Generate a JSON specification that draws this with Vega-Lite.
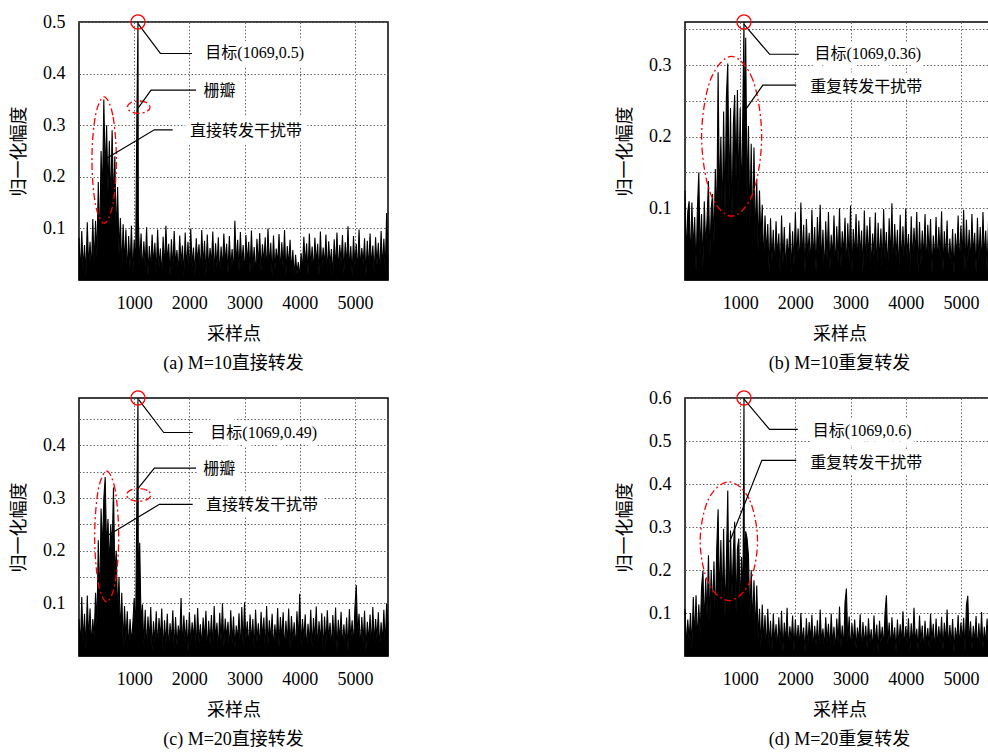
{
"$schema": "https://vega.github.io/schema/vega-lite/v6.json",
"padding": {"left": 9, "top": 11, "right": 0, "bottom": 0},
"background": "white",
"bounds": "flush",
"columns": 2,
"spacing": {"row": 118, "column": 297},
"config": {
 "view": {"stroke": "black", "strokeWidth": 1.5},
 "axis": {"domain": false, "ticks": false, "tickSize": 0, "labelFont": "Liberation Serif", "labelFontSize": 18, "labelColor": "black", "labelFlush": false, "labelOverlap": false, "titleFont": "Noto Sans CJK SC", "titleFontSize": 18, "titleFontWeight": "normal", "titleColor": "black", "gridColor": "#666666", "gridDash": [1.5, 2], "gridWidth": 1, "gridOpacity": 1},
 "axisX": {"labelPadding": 14, "titlePadding": 13},
 "axisY": {"labelPadding": 14, "titlePadding": 14},
 "title": {"orient": "bottom", "font": "Liberation Serif, Noto Sans CJK SC", "fontSize": 18, "fontWeight": "normal", "color": "black", "offset": 12, "frame": "group", "anchor": "middle"}
},
"datasets": {
"sig": [
{"x":0,"a":0.082,"b":0.125,"c":0.07,"d":0.11},
{"x":25,"a":0.012,"b":0.03,"c":0.015,"d":0.02},
{"x":50,"a":0.095,"b":0.095,"c":0.112,"d":0.085},
{"x":75,"a":0.021,"b":0.11,"c":0.025,"d":0.035},
{"x":100,"a":0.068,"b":0.02,"c":0.08,"d":0.1},
{"x":125,"a":0.008,"b":0.108,"c":0.01,"d":0.015},
{"x":150,"a":0.112,"b":0.04,"c":0.115,"d":0.137},
{"x":175,"a":0.025,"b":0.088,"c":0.03,"d":0.04},
{"x":200,"a":0.074,"b":0.012,"c":0.09,"d":0.141},
{"x":225,"a":0.015,"b":0.1,"c":0.018,"d":0.03},
{"x":250,"a":0.118,"b":0.15,"c":0.07,"d":0.12},
{"x":275,"a":0.03,"b":0.035,"c":0.035,"d":0.05},
{"x":300,"a":0.115,"b":0.092,"c":0.12,"d":0.16},
{"x":325,"a":0.045,"b":0.018,"c":0.06,"d":0.199},
{"x":350,"a":0.19,"b":0.11,"c":0.22,"d":0.07},
{"x":375,"a":0.06,"b":0.045,"c":0.09,"d":0.18},
{"x":400,"a":0.25,"b":0.085,"c":0.28,"d":0.09},
{"x":425,"a":0.16,"b":0.138,"c":0.2,"d":0.234},
{"x":450,"a":0.35,"b":0.03,"c":0.3,"d":0.08},
{"x":475,"a":0.2,"b":0.1,"c":0.34,"d":0.2},
{"x":500,"a":0.3,"b":0.12,"c":0.2,"d":0.1},
{"x":525,"a":0.17,"b":0.05,"c":0.26,"d":0.22},
{"x":550,"a":0.27,"b":0.155,"c":0.17,"d":0.07},
{"x":575,"a":0.14,"b":0.07,"c":0.25,"d":0.25},
{"x":600,"a":0.29,"b":0.29,"c":0.2,"d":0.341},
{"x":625,"a":0.15,"b":0.1,"c":0.32,"d":0.12},
{"x":650,"a":0.24,"b":0.2,"c":0.15,"d":0.27},
{"x":675,"a":0.08,"b":0.08,"c":0.2,"d":0.11},
{"x":700,"a":0.18,"b":0.235,"c":0.08,"d":0.296},
{"x":725,"a":0.05,"b":0.09,"c":0.15,"d":0.09},
{"x":750,"a":0.12,"b":0.255,"c":0.04,"d":0.22},
{"x":775,"a":0.018,"b":0.302,"c":0.12,"d":0.385},
{"x":800,"a":0.108,"b":0.11,"c":0.02,"d":0.1},
{"x":825,"a":0.03,"b":0.24,"c":0.095,"d":0.292},
{"x":850,"a":0.098,"b":0.075,"c":0.03,"d":0.13},
{"x":875,"a":0.012,"b":0.215,"c":0.085,"d":0.24},
{"x":900,"a":0.085,"b":0.258,"c":0.012,"d":0.312},
{"x":925,"a":0.022,"b":0.14,"c":0.07,"d":0.1},
{"x":950,"a":0.105,"b":0.265,"c":0.025,"d":0.25},
{"x":975,"a":0.01,"b":0.12,"c":0.06,"d":0.273},
{"x":1000,"a":0.078,"b":0.24,"c":0.11,"d":0.11},
{"x":1025,"a":0.02,"b":0.1,"c":0.04,"d":0.23},
{"x":1050,"a":0.33,"b":0.25,"c":0.31,"d":0.12},
{"x":1069,"a":0.5,"b":0.36,"c":0.49,"d":0.6},
{"x":1075,"a":0.118,"b":0.16,"c":0.13,"d":0.18},
{"x":1100,"a":0.03,"b":0.338,"c":0.215,"d":0.29},
{"x":1125,"a":0.09,"b":0.11,"c":0.06,"d":0.273},
{"x":1150,"a":0.014,"b":0.215,"c":0.098,"d":0.235},
{"x":1175,"a":0.075,"b":0.075,"c":0.02,"d":0.09},
{"x":1200,"a":0.025,"b":0.19,"c":0.088,"d":0.2},
{"x":1225,"a":0.102,"b":0.06,"c":0.012,"d":0.07},
{"x":1250,"a":0.008,"b":0.185,"c":0.075,"d":0.176},
{"x":1275,"a":0.066,"b":0.05,"c":0.028,"d":0.05},
{"x":1300,"a":0.019,"b":0.14,"c":0.093,"d":0.164},
{"x":1325,"a":0.088,"b":0.04,"c":0.01,"d":0.04},
{"x":1350,"a":0.027,"b":0.125,"c":0.066,"d":0.11},
{"x":1375,"a":0.072,"b":0.055,"c":0.024,"d":0.02},
{"x":1400,"a":0.011,"b":0.105,"c":0.085,"d":0.12},
{"x":1425,"a":0.098,"b":0.02,"c":0.016,"d":0.03},
{"x":1450,"a":0.024,"b":0.09,"c":0.072,"d":0.095},
{"x":1475,"a":0.061,"b":0.035,"c":0.031,"d":0.012},
{"x":1500,"a":0.006,"b":0.078,"c":0.09,"d":0.11},
{"x":1525,"a":0.084,"b":0.01,"c":0.009,"d":0.025},
{"x":1550,"a":0.02,"b":0.086,"c":0.068,"d":0.082},
{"x":1575,"a":0.105,"b":0.025,"c":0.022,"d":0.01},
{"x":1600,"a":0.033,"b":0.07,"c":0.08,"d":0.098},
{"x":1625,"a":0.07,"b":0.015,"c":0.013,"d":0.03},
{"x":1650,"a":0.009,"b":0.082,"c":0.062,"d":0.074},
{"x":1675,"a":0.079,"b":0.03,"c":0.027,"d":0.016},
{"x":1700,"a":0.018,"b":0.065,"c":0.087,"d":0.09},
{"x":1725,"a":0.095,"b":0.008,"c":0.011,"d":0.022},
{"x":1750,"a":0.028,"b":0.09,"c":0.074,"d":0.105},
{"x":1775,"a":0.058,"b":0.022,"c":0.02,"d":0.009},
{"x":1800,"a":0.012,"b":0.074,"c":0.058,"d":0.078},
{"x":1825,"a":0.086,"b":0.012,"c":0.03,"d":0.028},
{"x":1850,"a":0.03,"b":0.058,"c":0.11,"d":0.112},
{"x":1875,"a":0.067,"b":0.028,"c":0.015,"d":0.014},
{"x":1900,"a":0.007,"b":0.08,"c":0.077,"d":0.069},
{"x":1925,"a":0.092,"b":0.01,"c":0.025,"d":0.033},
{"x":1950,"a":0.021,"b":0.068,"c":0.069,"d":0.094},
{"x":1975,"a":0.074,"b":0.02,"c":0.008,"d":0.011},
{"x":2000,"a":0.015,"b":0.094,"c":0.083,"d":0.085},
{"x":2025,"a":0.1,"b":0.03,"c":0.021,"d":0.024},
{"x":2050,"a":0.026,"b":0.072,"c":0.064,"d":0.072},
{"x":2075,"a":0.063,"b":0.014,"c":0.032,"d":0.018},
{"x":2100,"a":0.01,"b":0.108,"c":0.079,"d":0.1},
{"x":2125,"a":0.081,"b":0.026,"c":0.012,"d":0.03},
{"x":2150,"a":0.032,"b":0.077,"c":0.091,"d":0.066},
{"x":2175,"a":0.069,"b":0.009,"c":0.024,"d":0.008},
{"x":2200,"a":0.013,"b":0.085,"c":0.06,"d":0.088},
{"x":2225,"a":0.097,"b":0.032,"c":0.017,"d":0.021},
{"x":2250,"a":0.024,"b":0.066,"c":0.073,"d":0.079},
{"x":2275,"a":0.076,"b":0.017,"c":0.029,"d":0.035},
{"x":2300,"a":0.008,"b":0.098,"c":0.086,"d":0.096},
{"x":2325,"a":0.088,"b":0.024,"c":0.009,"d":0.013},
{"x":2350,"a":0.019,"b":0.074,"c":0.067,"d":0.07},
{"x":2375,"a":0.062,"b":0.011,"c":0.022,"d":0.026},
{"x":2400,"a":0.029,"b":0.088,"c":0.078,"d":0.083},
{"x":2425,"a":0.094,"b":0.035,"c":0.014,"d":0.01},
{"x":2450,"a":0.011,"b":0.105,"c":0.095,"d":0.108},
{"x":2475,"a":0.071,"b":0.019,"c":0.03,"d":0.029},
{"x":2500,"a":0.023,"b":0.07,"c":0.063,"d":0.064},
{"x":2525,"a":0.083,"b":0.006,"c":0.011,"d":0.017},
{"x":2550,"a":0.006,"b":0.082,"c":0.082,"d":0.09},
{"x":2575,"a":0.065,"b":0.027,"c":0.026,"d":0.032},
{"x":2600,"a":0.02,"b":0.095,"c":0.1,"d":0.075},
{"x":2625,"a":0.09,"b":0.015,"c":0.018,"d":0.012},
{"x":2650,"a":0.031,"b":0.063,"c":0.071,"d":0.099},
{"x":2675,"a":0.07,"b":0.03,"c":0.033,"d":0.025},
{"x":2700,"a":0.012,"b":0.09,"c":0.065,"d":0.068},
{"x":2725,"a":0.085,"b":0.011,"c":0.01,"d":0.009},
{"x":2750,"a":0.022,"b":0.075,"c":0.087,"d":0.087},
{"x":2775,"a":0.06,"b":0.025,"c":0.023,"d":0.03},
{"x":2800,"a":0.009,"b":0.1,"c":0.075,"d":0.115},
{"x":2825,"a":0.115,"b":0.018,"c":0.015,"d":0.02},
{"x":2850,"a":0.027,"b":0.068,"c":0.058,"d":0.071},
{"x":2875,"a":0.078,"b":0.034,"c":0.028,"d":0.014},
{"x":2900,"a":0.016,"b":0.087,"c":0.081,"d":0.125},
{"x":2925,"a":0.093,"b":0.012,"c":0.008,"d":0.157},
{"x":2950,"a":0.025,"b":0.079,"c":0.093,"d":0.03},
{"x":2975,"a":0.068,"b":0.023,"c":0.02,"d":0.092},
{"x":3000,"a":0.01,"b":0.104,"c":0.102,"d":0.011},
{"x":3025,"a":0.087,"b":0.008,"c":0.031,"d":0.076},
{"x":3050,"a":0.03,"b":0.071,"c":0.066,"d":0.027},
{"x":3075,"a":0.074,"b":0.029,"c":0.013,"d":0.085},
{"x":3100,"a":0.014,"b":0.092,"c":0.079,"d":0.016},
{"x":3125,"a":0.096,"b":0.016,"c":0.025,"d":0.066},
{"x":3150,"a":0.021,"b":0.083,"c":0.07,"d":0.033},
{"x":3175,"a":0.064,"b":0.032,"c":0.01,"d":0.097},
{"x":3200,"a":0.007,"b":0.069,"c":0.088,"d":0.01},
{"x":3225,"a":0.08,"b":0.01,"c":0.027,"d":0.079},
{"x":3250,"a":0.026,"b":0.097,"c":0.062,"d":0.024},
{"x":3275,"a":0.091,"b":0.021,"c":0.016,"d":0.07},
{"x":3300,"a":0.017,"b":0.076,"c":0.084,"d":0.018},
{"x":3325,"a":0.069,"b":0.028,"c":0.032,"d":0.088},
{"x":3350,"a":0.032,"b":0.088,"c":0.073,"d":0.029},
{"x":3375,"a":0.083,"b":0.013,"c":0.009,"d":0.062},
{"x":3400,"a":0.011,"b":0.065,"c":0.095,"d":0.012},
{"x":3425,"a":0.1,"b":0.033,"c":0.021,"d":0.094},
{"x":3450,"a":0.024,"b":0.094,"c":0.068,"d":0.026},
{"x":3475,"a":0.072,"b":0.009,"c":0.029,"d":0.073},
{"x":3500,"a":0.008,"b":0.08,"c":0.08,"d":0.008},
{"x":3525,"a":0.086,"b":0.024,"c":0.012,"d":0.082},
{"x":3550,"a":0.019,"b":0.072,"c":0.06,"d":0.031},
{"x":3575,"a":0.061,"b":0.017,"c":0.024,"d":0.068},
{"x":3600,"a":0.028,"b":0.099,"c":0.091,"d":0.019},
{"x":3625,"a":0.089,"b":0.03,"c":0.017,"d":0.1},
{"x":3650,"a":0.013,"b":0.067,"c":0.074,"d":0.141},
{"x":3675,"a":0.073,"b":0.011,"c":0.03,"d":0.025},
{"x":3700,"a":0.022,"b":0.086,"c":0.083,"d":0.078},
{"x":3725,"a":0.097,"b":0.026,"c":0.008,"d":0.013},
{"x":3750,"a":0.009,"b":0.107,"c":0.067,"d":0.09},
{"x":3775,"a":0.066,"b":0.014,"c":0.022,"d":0.03},
{"x":3800,"a":0.025,"b":0.078,"c":0.09,"d":0.067},
{"x":3825,"a":0.078,"b":0.031,"c":0.014,"d":0.01},
{"x":3850,"a":0.015,"b":0.07,"c":0.076,"d":0.085},
{"x":3875,"a":0.058,"b":0.008,"c":0.028,"d":0.022},
{"x":3900,"a":0.006,"b":0.091,"c":0.064,"d":0.074},
{"x":3925,"a":0.049,"b":0.022,"c":0.011,"d":0.028},
{"x":3950,"a":0.012,"b":0.075,"c":0.085,"d":0.104},
{"x":3975,"a":0.035,"b":0.018,"c":0.025,"d":0.015},
{"x":4000,"a":0.004,"b":0.1,"c":0.118,"d":0.069},
{"x":4025,"a":0.052,"b":0.029,"c":0.018,"d":0.032},
{"x":4050,"a":0.018,"b":0.064,"c":0.07,"d":0.088},
{"x":4075,"a":0.084,"b":0.012,"c":0.032,"d":0.009},
{"x":4100,"a":0.027,"b":0.089,"c":0.079,"d":0.076},
{"x":4125,"a":0.071,"b":0.025,"c":0.01,"d":0.021},
{"x":4150,"a":0.01,"b":0.073,"c":0.061,"d":0.112},
{"x":4175,"a":0.09,"b":0.034,"c":0.023,"d":0.027},
{"x":4200,"a":0.023,"b":0.095,"c":0.088,"d":0.063},
{"x":4225,"a":0.065,"b":0.01,"c":0.015,"d":0.014},
{"x":4250,"a":0.014,"b":0.081,"c":0.072,"d":0.094},
{"x":4275,"a":0.082,"b":0.02,"c":0.029,"d":0.03},
{"x":4300,"a":0.031,"b":0.069,"c":0.094,"d":0.071},
{"x":4325,"a":0.07,"b":0.027,"c":0.012,"d":0.011},
{"x":4350,"a":0.008,"b":0.092,"c":0.066,"d":0.082},
{"x":4375,"a":0.094,"b":0.015,"c":0.026,"d":0.025},
{"x":4400,"a":0.02,"b":0.077,"c":0.081,"d":0.065},
{"x":4425,"a":0.063,"b":0.032,"c":0.009,"d":0.018},
{"x":4450,"a":0.026,"b":0.085,"c":0.075,"d":0.098},
{"x":4475,"a":0.088,"b":0.009,"c":0.02,"d":0.033},
{"x":4500,"a":0.012,"b":0.062,"c":0.087,"d":0.075},
{"x":4525,"a":0.075,"b":0.023,"c":0.031,"d":0.01},
{"x":4550,"a":0.029,"b":0.088,"c":0.063,"d":0.087},
{"x":4575,"a":0.06,"b":0.018,"c":0.014,"d":0.022},
{"x":4600,"a":0.007,"b":0.074,"c":0.078,"d":0.069},
{"x":4625,"a":0.079,"b":0.03,"c":0.024,"d":0.028},
{"x":4650,"a":0.021,"b":0.096,"c":0.092,"d":0.091},
{"x":4675,"a":0.092,"b":0.011,"c":0.011,"d":0.013},
{"x":4700,"a":0.016,"b":0.068,"c":0.069,"d":0.077},
{"x":4725,"a":0.068,"b":0.026,"c":0.028,"d":0.031},
{"x":4750,"a":0.033,"b":0.083,"c":0.084,"d":0.108},
{"x":4775,"a":0.087,"b":0.014,"c":0.016,"d":0.016},
{"x":4800,"a":0.011,"b":0.058,"c":0.06,"d":0.072},
{"x":4825,"a":0.073,"b":0.021,"c":0.022,"d":0.024},
{"x":4850,"a":0.024,"b":0.071,"c":0.073,"d":0.086},
{"x":4875,"a":0.104,"b":0.008,"c":0.009,"d":0.009},
{"x":4900,"a":0.018,"b":0.065,"c":0.089,"d":0.066},
{"x":4925,"a":0.066,"b":0.028,"c":0.03,"d":0.029},
{"x":4950,"a":0.009,"b":0.09,"c":0.068,"d":0.095},
{"x":4975,"a":0.085,"b":0.016,"c":0.017,"d":0.019},
{"x":5000,"a":0.027,"b":0.076,"c":0.09,"d":0.078},
{"x":5025,"a":0.07,"b":0.031,"c":0.135,"d":0.034},
{"x":5050,"a":0.013,"b":0.098,"c":0.04,"d":0.089},
{"x":5075,"a":0.098,"b":0.012,"c":0.08,"d":0.012},
{"x":5100,"a":0.022,"b":0.084,"c":0.012,"d":0.118},
{"x":5125,"a":0.062,"b":0.025,"c":0.074,"d":0.14},
{"x":5150,"a":0.03,"b":0.07,"c":0.025,"d":0.026},
{"x":5175,"a":0.081,"b":0.019,"c":0.086,"d":0.081},
{"x":5200,"a":0.008,"b":0.092,"c":0.01,"d":0.015},
{"x":5225,"a":0.076,"b":0.033,"c":0.065,"d":0.07},
{"x":5250,"a":0.019,"b":0.066,"c":0.027,"d":0.03},
{"x":5275,"a":0.09,"b":0.01,"c":0.079,"d":0.093},
{"x":5300,"a":0.025,"b":0.087,"c":0.015,"d":0.011},
{"x":5325,"a":0.067,"b":0.024,"c":0.093,"d":0.076},
{"x":5350,"a":0.012,"b":0.074,"c":0.021,"d":0.023},
{"x":5375,"a":0.083,"b":0.017,"c":0.07,"d":0.102},
{"x":5400,"a":0.028,"b":0.095,"c":0.032,"d":0.017},
{"x":5425,"a":0.072,"b":0.029,"c":0.083,"d":0.068},
{"x":5450,"a":0.01,"b":0.069,"c":0.013,"d":0.028},
{"x":5475,"a":0.095,"b":0.013,"c":0.064,"d":0.087},
{"x":5500,"a":0.021,"b":0.082,"c":0.024,"d":0.01},
{"x":5525,"a":0.08,"b":0.022,"c":0.088,"d":0.079},
{"x":5550,"a":0.015,"b":0.1,"c":0.017,"d":0.025},
{"x":5575,"a":0.13,"b":0.018,"c":0.1,"d":0.092},
{"x":5600,"a":0.04,"b":0.075,"c":0.06,"d":0.06}
],
"shp": [
{"p":"a","kind":"ell","id":"a1","k":0,"x":678,"y":0.2325},
{"p":"a","kind":"ell","id":"a1","k":1,"x":613,"y":0.319},
{"p":"a","kind":"ell","id":"a1","k":2,"x":456,"y":0.355},
{"p":"a","kind":"ell","id":"a1","k":3,"x":299,"y":0.319},
{"p":"a","kind":"ell","id":"a1","k":4,"x":234,"y":0.2325},
{"p":"a","kind":"ell","id":"a1","k":5,"x":299,"y":0.146},
{"p":"a","kind":"ell","id":"a1","k":6,"x":456,"y":0.11},
{"p":"a","kind":"ell","id":"a1","k":7,"x":613,"y":0.146},
{"p":"a","kind":"ell","id":"a2","k":0,"x":1287,"y":0.335},
{"p":"a","kind":"ell","id":"a2","k":1,"x":1227,"y":0.3435},
{"p":"a","kind":"ell","id":"a2","k":2,"x":1082,"y":0.347},
{"p":"a","kind":"ell","id":"a2","k":3,"x":937,"y":0.3435},
{"p":"a","kind":"ell","id":"a2","k":4,"x":877,"y":0.335},
{"p":"a","kind":"ell","id":"a2","k":5,"x":937,"y":0.3265},
{"p":"a","kind":"ell","id":"a2","k":6,"x":1082,"y":0.323},
{"p":"a","kind":"ell","id":"a2","k":7,"x":1227,"y":0.3265},
{"p":"b","kind":"ell","id":"b1","k":0,"x":1389,"y":0.2},
{"p":"b","kind":"ell","id":"b1","k":1,"x":1230,"y":0.279},
{"p":"b","kind":"ell","id":"b1","k":2,"x":845,"y":0.312},
{"p":"b","kind":"ell","id":"b1","k":3,"x":460,"y":0.279},
{"p":"b","kind":"ell","id":"b1","k":4,"x":301,"y":0.2},
{"p":"b","kind":"ell","id":"b1","k":5,"x":460,"y":0.121},
{"p":"b","kind":"ell","id":"b1","k":6,"x":845,"y":0.089},
{"p":"b","kind":"ell","id":"b1","k":7,"x":1230,"y":0.121},
{"p":"c","kind":"ell","id":"c1","k":0,"x":720,"y":0.227},
{"p":"c","kind":"ell","id":"c1","k":1,"x":656,"y":0.315},
{"p":"c","kind":"ell","id":"c1","k":2,"x":502,"y":0.351},
{"p":"c","kind":"ell","id":"c1","k":3,"x":348,"y":0.315},
{"p":"c","kind":"ell","id":"c1","k":4,"x":284,"y":0.227},
{"p":"c","kind":"ell","id":"c1","k":5,"x":348,"y":0.139},
{"p":"c","kind":"ell","id":"c1","k":6,"x":502,"y":0.103},
{"p":"c","kind":"ell","id":"c1","k":7,"x":656,"y":0.139},
{"p":"c","kind":"ell","id":"c2","k":0,"x":1303,"y":0.306},
{"p":"c","kind":"ell","id":"c2","k":1,"x":1238,"y":0.3145},
{"p":"c","kind":"ell","id":"c2","k":2,"x":1082,"y":0.318},
{"p":"c","kind":"ell","id":"c2","k":3,"x":926,"y":0.3145},
{"p":"c","kind":"ell","id":"c2","k":4,"x":861,"y":0.306},
{"p":"c","kind":"ell","id":"c2","k":5,"x":926,"y":0.2975},
{"p":"c","kind":"ell","id":"c2","k":6,"x":1082,"y":0.294},
{"p":"c","kind":"ell","id":"c2","k":7,"x":1238,"y":0.2975},
{"p":"d","kind":"ell","id":"d1","k":0,"x":1315,"y":0.267},
{"p":"d","kind":"ell","id":"d1","k":1,"x":1163,"y":0.365},
{"p":"d","kind":"ell","id":"d1","k":2,"x":795,"y":0.405},
{"p":"d","kind":"ell","id":"d1","k":3,"x":427,"y":0.365},
{"p":"d","kind":"ell","id":"d1","k":4,"x":275,"y":0.267},
{"p":"d","kind":"ell","id":"d1","k":5,"x":427,"y":0.169},
{"p":"d","kind":"ell","id":"d1","k":6,"x":795,"y":0.129},
{"p":"d","kind":"ell","id":"d1","k":7,"x":1163,"y":0.169},
{"p":"a","kind":"lead","id":"aL1","k":0,"x":1069,"y":0.497},
{"p":"a","kind":"lead","id":"aL1","k":1,"x":1475,"y":0.439},
{"p":"a","kind":"lead","id":"aL1","k":2,"x":2049,"y":0.439},
{"p":"a","kind":"lead","id":"aL2","k":0,"x":1070,"y":0.333},
{"p":"a","kind":"lead","id":"aL2","k":1,"x":1306,"y":0.368},
{"p":"a","kind":"lead","id":"aL2","k":2,"x":2121,"y":0.368},
{"p":"a","kind":"lead","id":"aL3","k":0,"x":502,"y":0.236},
{"p":"a","kind":"lead","id":"aL3","k":1,"x":1366,"y":0.291},
{"p":"a","kind":"lead","id":"aL3","k":2,"x":1698,"y":0.291},
{"p":"b","kind":"lead","id":"bL1","k":0,"x":1066,"y":0.357},
{"p":"b","kind":"lead","id":"bL1","k":1,"x":1532,"y":0.315},
{"p":"b","kind":"lead","id":"bL1","k":2,"x":2063,"y":0.315},
{"p":"b","kind":"lead","id":"bL2","k":0,"x":1110,"y":0.239},
{"p":"b","kind":"lead","id":"bL2","k":1,"x":1411,"y":0.272},
{"p":"b","kind":"lead","id":"bL2","k":2,"x":2016,"y":0.272},
{"p":"c","kind":"lead","id":"cL1","k":0,"x":1082,"y":0.487},
{"p":"c","kind":"lead","id":"cL1","k":1,"x":1535,"y":0.4245},
{"p":"c","kind":"lead","id":"cL1","k":2,"x":2060,"y":0.4245},
{"p":"c","kind":"lead","id":"cL2","k":0,"x":1064,"y":0.3175},
{"p":"c","kind":"lead","id":"cL2","k":1,"x":1366,"y":0.357},
{"p":"c","kind":"lead","id":"cL2","k":2,"x":2121,"y":0.357},
{"p":"c","kind":"lead","id":"cL3","k":0,"x":520,"y":0.229},
{"p":"c","kind":"lead","id":"cL3","k":1,"x":1457,"y":0.288},
{"p":"c","kind":"lead","id":"cL3","k":2,"x":2060,"y":0.288},
{"p":"d","kind":"lead","id":"dL1","k":0,"x":1066,"y":0.598},
{"p":"d","kind":"lead","id":"dL1","k":1,"x":1532,"y":0.527},
{"p":"d","kind":"lead","id":"dL1","k":2,"x":2045,"y":0.527},
{"p":"d","kind":"lead","id":"dL2","k":0,"x":807,"y":0.265},
{"p":"d","kind":"lead","id":"dL2","k":1,"x":1393,"y":0.455},
{"p":"d","kind":"lead","id":"dL2","k":2,"x":2016,"y":0.455}
],
"lab": [
{"p":"a","x":2290,"y":0.439,"t":"目标(1069,0.5)"},
{"p":"a","x":2255,"y":0.366,"t":"栅瓣"},
{"p":"a","x":2012,"y":0.289,"t":"直接转发干扰带"},
{"p":"b","x":2347,"y":0.315,"t":"目标(1069,0.36)"},
{"p":"b","x":2270,"y":0.27,"t":"重复转发干扰带"},
{"p":"c","x":2380,"y":0.423,"t":"目标(1069,0.49)"},
{"p":"c","x":2254,"y":0.356,"t":"栅瓣"},
{"p":"c","x":2303,"y":0.287,"t":"直接转发干扰带"},
{"p":"d","x":2317,"y":0.523,"t":"目标(1069,0.6)"},
{"p":"d","x":2270,"y":0.45,"t":"重复转发干扰带"}
],
"tgt": [
{"p":"a","x":1069,"y":0.5},
{"p":"b","x":1069,"y":0.36},
{"p":"c","x":1069,"y":0.49},
{"p":"d","x":1069,"y":0.6}
]
},
"concat": [
{
 "width": 309, "height": 258,
 "title": {"text": "(a) M=10直接转发"},
 "layer": [
  {"data": {"name": "sig"}, "mark": {"type": "area", "color": "black", "stroke": "black", "strokeWidth": 1.1},
   "encoding": {
    "x": {"field": "x", "type": "quantitative", "scale": {"domain": [0, 5600], "nice": false, "zero": false}, "axis": {"values": [1000, 2000, 3000, 4000, 5000], "format": "d", "title": "采样点"}},
    "y": {"field": "a", "type": "quantitative", "scale": {"domain": [0, 0.5], "nice": false}, "axis": {"values": [0.1, 0.2, 0.3, 0.4, 0.5], "format": ".1f", "title": "归一化幅度"}}}},
  {"data": {"name": "shp"}, "transform": [{"filter": "datum.p === 'a' && datum.kind === 'ell'"}],
   "mark": {"type": "line", "color": "#ff0000", "strokeWidth": 1.3, "strokeDash": [7, 3, 2, 3], "interpolate": "cardinal-closed"},
   "encoding": {"x": {"field": "x", "type": "quantitative"}, "y": {"field": "y", "type": "quantitative"}, "order": {"field": "k"}, "detail": {"field": "id"}}},
  {"data": {"name": "shp"}, "transform": [{"filter": "datum.p === 'a' && datum.kind === 'lead'"}],
   "mark": {"type": "line", "color": "black", "strokeWidth": 1.2},
   "encoding": {"x": {"field": "x", "type": "quantitative"}, "y": {"field": "y", "type": "quantitative"}, "order": {"field": "k"}, "detail": {"field": "id"}}},
  {"data": {"name": "tgt"}, "transform": [{"filter": "datum.p === 'a'"}],
   "mark": {"type": "point", "shape": "circle", "size": 200, "filled": false, "color": "#ff0000", "strokeWidth": 1.3, "opacity": 1},
   "encoding": {"x": {"field": "x", "type": "quantitative"}, "y": {"field": "y", "type": "quantitative"}}},
  {"data": {"name": "lab"}, "transform": [{"filter": "datum.p === 'a'"}],
   "mark": {"type": "text", "align": "left", "baseline": "middle", "font": "Liberation Serif, Noto Sans CJK SC", "fontSize": 16, "fill": "white", "stroke": "white", "strokeWidth": 12, "strokeJoin": "round"},
   "encoding": {"x": {"field": "x", "type": "quantitative"}, "y": {"field": "y", "type": "quantitative"}, "text": {"field": "t"}}},
  {"data": {"name": "lab"}, "transform": [{"filter": "datum.p === 'a'"}],
   "mark": {"type": "text", "align": "left", "baseline": "middle", "font": "Liberation Serif, Noto Sans CJK SC", "fontSize": 16, "color": "black"},
   "encoding": {"x": {"field": "x", "type": "quantitative"}, "y": {"field": "y", "type": "quantitative"}, "text": {"field": "t"}}}
 ]
},
{
 "width": 309, "height": 258,
 "title": {"text": "(b) M=10重复转发"},
 "resolve": {"axis": {"y": "independent"}},
 "layer": [
  {"data": {"name": "sig"}, "mark": {"type": "area", "color": "black", "stroke": "black", "strokeWidth": 1.1},
   "encoding": {
    "x": {"field": "x", "type": "quantitative", "scale": {"domain": [0, 5600], "nice": false, "zero": false}, "axis": {"values": [1000, 2000, 3000, 4000, 5000], "format": "d", "title": "采样点"}},
    "y": {"field": "b", "type": "quantitative", "scale": {"domain": [0, 0.36], "nice": false}, "axis": {"values": [0.1, 0.2, 0.3], "format": ".1f", "title": "归一化幅度"}}}},
  {"data": {"name": "shp"}, "transform": [{"filter": "datum.p === 'b' && datum.kind === 'ell'"}],
   "mark": {"type": "line", "color": "#ff0000", "strokeWidth": 1.3, "strokeDash": [7, 3, 2, 3], "interpolate": "cardinal-closed"},
   "encoding": {"x": {"field": "x", "type": "quantitative"}, "y": {"field": "y", "type": "quantitative", "axis": {"values": [0.05, 0.15, 0.25, 0.35], "labels": false, "title": null, "orient": "left", "grid": true}}, "order": {"field": "k"}, "detail": {"field": "id"}}},
  {"data": {"name": "shp"}, "transform": [{"filter": "datum.p === 'b' && datum.kind === 'lead'"}],
   "mark": {"type": "line", "color": "black", "strokeWidth": 1.2},
   "encoding": {"x": {"field": "x", "type": "quantitative"}, "y": {"field": "y", "type": "quantitative", "axis": null}, "order": {"field": "k"}, "detail": {"field": "id"}}},
  {"data": {"name": "tgt"}, "transform": [{"filter": "datum.p === 'b'"}],
   "mark": {"type": "point", "shape": "circle", "size": 200, "filled": false, "color": "#ff0000", "strokeWidth": 1.3, "opacity": 1},
   "encoding": {"x": {"field": "x", "type": "quantitative"}, "y": {"field": "y", "type": "quantitative", "axis": null}}},
  {"data": {"name": "lab"}, "transform": [{"filter": "datum.p === 'b'"}],
   "mark": {"type": "text", "align": "left", "baseline": "middle", "font": "Liberation Serif, Noto Sans CJK SC", "fontSize": 16, "fill": "white", "stroke": "white", "strokeWidth": 12, "strokeJoin": "round"},
   "encoding": {"x": {"field": "x", "type": "quantitative"}, "y": {"field": "y", "type": "quantitative", "axis": null}, "text": {"field": "t"}}},
  {"data": {"name": "lab"}, "transform": [{"filter": "datum.p === 'b'"}],
   "mark": {"type": "text", "align": "left", "baseline": "middle", "font": "Liberation Serif, Noto Sans CJK SC", "fontSize": 16, "color": "black"},
   "encoding": {"x": {"field": "x", "type": "quantitative"}, "y": {"field": "y", "type": "quantitative", "axis": null}, "text": {"field": "t"}}}
 ]
},
{
 "width": 309, "height": 258,
 "title": {"text": "(c) M=20直接转发"},
 "resolve": {"axis": {"y": "independent"}},
 "layer": [
  {"data": {"name": "sig"}, "mark": {"type": "area", "color": "black", "stroke": "black", "strokeWidth": 1.1},
   "encoding": {
    "x": {"field": "x", "type": "quantitative", "scale": {"domain": [0, 5600], "nice": false, "zero": false}, "axis": {"values": [1000, 2000, 3000, 4000, 5000], "format": "d", "title": "采样点"}},
    "y": {"field": "c", "type": "quantitative", "scale": {"domain": [0, 0.49], "nice": false}, "axis": {"values": [0.1, 0.2, 0.3, 0.4], "format": ".1f", "title": "归一化幅度"}}}},
  {"data": {"name": "shp"}, "transform": [{"filter": "datum.p === 'c' && datum.kind === 'ell'"}],
   "mark": {"type": "line", "color": "#ff0000", "strokeWidth": 1.3, "strokeDash": [7, 3, 2, 3], "interpolate": "cardinal-closed"},
   "encoding": {"x": {"field": "x", "type": "quantitative"}, "y": {"field": "y", "type": "quantitative", "axis": {"values": [0.05, 0.15, 0.25, 0.35, 0.45], "labels": false, "title": null, "orient": "left", "grid": true}}, "order": {"field": "k"}, "detail": {"field": "id"}}},
  {"data": {"name": "shp"}, "transform": [{"filter": "datum.p === 'c' && datum.kind === 'lead'"}],
   "mark": {"type": "line", "color": "black", "strokeWidth": 1.2},
   "encoding": {"x": {"field": "x", "type": "quantitative"}, "y": {"field": "y", "type": "quantitative", "axis": null}, "order": {"field": "k"}, "detail": {"field": "id"}}},
  {"data": {"name": "tgt"}, "transform": [{"filter": "datum.p === 'c'"}],
   "mark": {"type": "point", "shape": "circle", "size": 200, "filled": false, "color": "#ff0000", "strokeWidth": 1.3, "opacity": 1},
   "encoding": {"x": {"field": "x", "type": "quantitative"}, "y": {"field": "y", "type": "quantitative", "axis": null}}},
  {"data": {"name": "lab"}, "transform": [{"filter": "datum.p === 'c'"}],
   "mark": {"type": "text", "align": "left", "baseline": "middle", "font": "Liberation Serif, Noto Sans CJK SC", "fontSize": 16, "fill": "white", "stroke": "white", "strokeWidth": 12, "strokeJoin": "round"},
   "encoding": {"x": {"field": "x", "type": "quantitative"}, "y": {"field": "y", "type": "quantitative", "axis": null}, "text": {"field": "t"}}},
  {"data": {"name": "lab"}, "transform": [{"filter": "datum.p === 'c'"}],
   "mark": {"type": "text", "align": "left", "baseline": "middle", "font": "Liberation Serif, Noto Sans CJK SC", "fontSize": 16, "color": "black"},
   "encoding": {"x": {"field": "x", "type": "quantitative"}, "y": {"field": "y", "type": "quantitative", "axis": null}, "text": {"field": "t"}}}
 ]
},
{
 "width": 309, "height": 258,
 "title": {"text": "(d) M=20重复转发"},
 "layer": [
  {"data": {"name": "sig"}, "mark": {"type": "area", "color": "black", "stroke": "black", "strokeWidth": 1.1},
   "encoding": {
    "x": {"field": "x", "type": "quantitative", "scale": {"domain": [0, 5600], "nice": false, "zero": false}, "axis": {"values": [1000, 2000, 3000, 4000, 5000], "format": "d", "title": "采样点"}},
    "y": {"field": "d", "type": "quantitative", "scale": {"domain": [0, 0.6], "nice": false}, "axis": {"values": [0.1, 0.2, 0.3, 0.4, 0.5, 0.6], "format": ".1f", "title": "归一化幅度"}}}},
  {"data": {"name": "shp"}, "transform": [{"filter": "datum.p === 'd' && datum.kind === 'ell'"}],
   "mark": {"type": "line", "color": "#ff0000", "strokeWidth": 1.3, "strokeDash": [7, 3, 2, 3], "interpolate": "cardinal-closed"},
   "encoding": {"x": {"field": "x", "type": "quantitative"}, "y": {"field": "y", "type": "quantitative"}, "order": {"field": "k"}, "detail": {"field": "id"}}},
  {"data": {"name": "shp"}, "transform": [{"filter": "datum.p === 'd' && datum.kind === 'lead'"}],
   "mark": {"type": "line", "color": "black", "strokeWidth": 1.2},
   "encoding": {"x": {"field": "x", "type": "quantitative"}, "y": {"field": "y", "type": "quantitative"}, "order": {"field": "k"}, "detail": {"field": "id"}}},
  {"data": {"name": "tgt"}, "transform": [{"filter": "datum.p === 'd'"}],
   "mark": {"type": "point", "shape": "circle", "size": 200, "filled": false, "color": "#ff0000", "strokeWidth": 1.3, "opacity": 1},
   "encoding": {"x": {"field": "x", "type": "quantitative"}, "y": {"field": "y", "type": "quantitative"}}},
  {"data": {"name": "lab"}, "transform": [{"filter": "datum.p === 'd'"}],
   "mark": {"type": "text", "align": "left", "baseline": "middle", "font": "Liberation Serif, Noto Sans CJK SC", "fontSize": 16, "fill": "white", "stroke": "white", "strokeWidth": 12, "strokeJoin": "round"},
   "encoding": {"x": {"field": "x", "type": "quantitative"}, "y": {"field": "y", "type": "quantitative"}, "text": {"field": "t"}}},
  {"data": {"name": "lab"}, "transform": [{"filter": "datum.p === 'd'"}],
   "mark": {"type": "text", "align": "left", "baseline": "middle", "font": "Liberation Serif, Noto Sans CJK SC", "fontSize": 16, "color": "black"},
   "encoding": {"x": {"field": "x", "type": "quantitative"}, "y": {"field": "y", "type": "quantitative"}, "text": {"field": "t"}}}
 ]
}
]
}
